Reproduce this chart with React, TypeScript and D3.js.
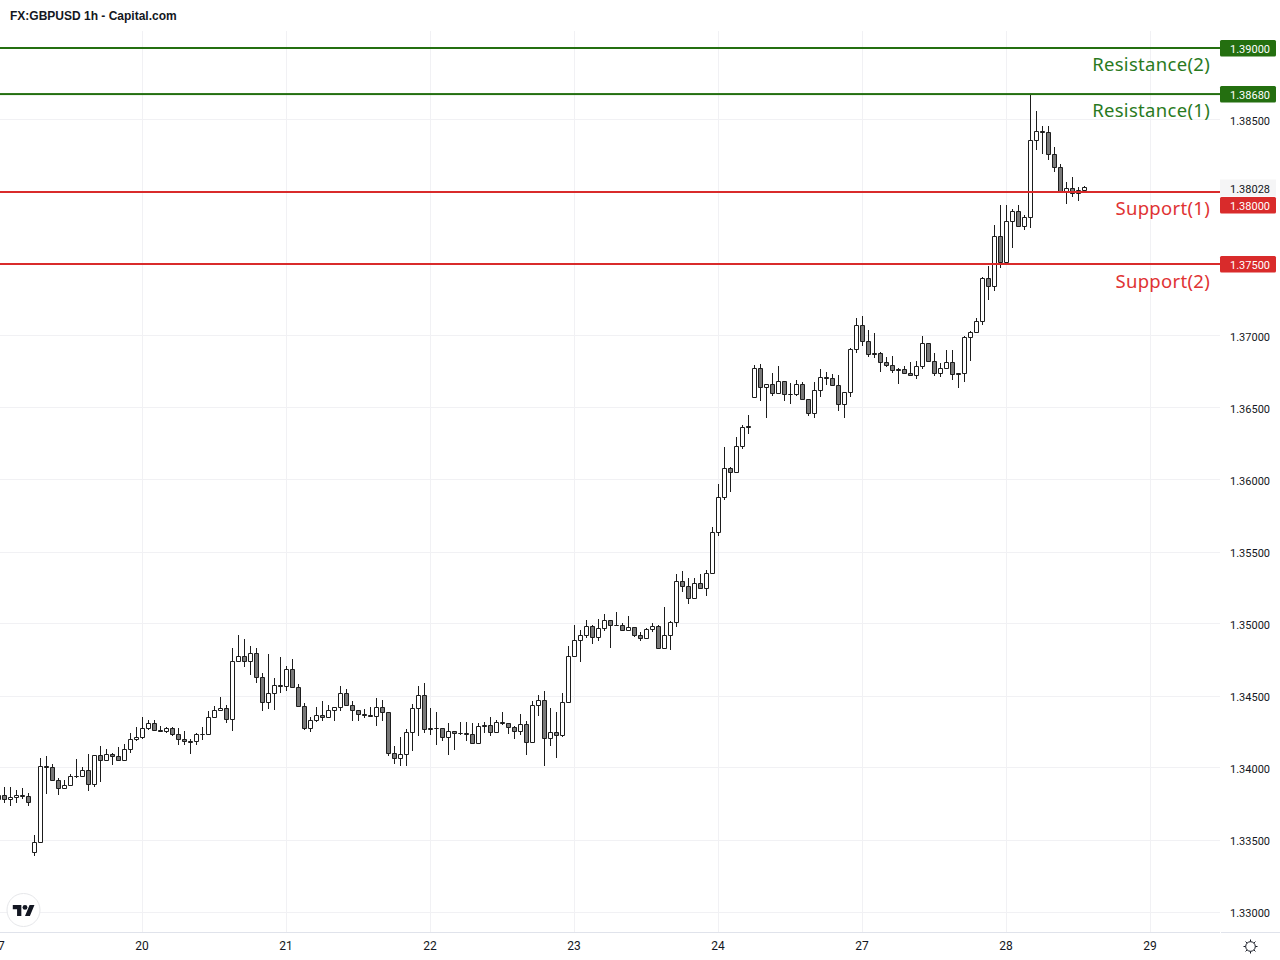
import React from "react";
import * as d3 from "d3";

// Hourly GBPUSD quotes, in units of 0.00001. One row per trading day.
const opens = [
  133778,133808,133780,133794,133808,133801,133414,133484,134009,134002,133912,133859,133880,133938,133942,133982,133887,134086,134053,134093,134079,134053,134130,134199,
  134213,134276,134308,134259,134255,134276,134232,134197,134183,134181,134232,134234,134352,134401,134412,134338,134741,134773,134741,134796,134628,134456,134519,134572,
  134567,134683,134558,134426,134276,134331,134364,134352,134401,134421,134516,134433,134398,134371,134364,134359,134419,134384,134100,134067,134095,134248,134415,134502,
  134276,134273,134273,134213,134252,134239,134241,134232,134171,134296,134294,134248,134315,134308,134283,134255,134301,134178,134435,134470,134206,134246,134227,134456,
  134776,134887,134922,134982,134908,134970,135023,134988,134988,134956,134975,134919,134900,134963,134982,134831,134922,135011,135294,135259,135178,135280,135247,135352,
  135636,135879,136079,136053,136234,136372,136572,136776,136644,136662,136602,136686,136593,136593,136665,136561,136463,136623,136711,136706,136658,136524,136609,136908,
  137075,136963,136880,136880,136818,136797,136769,136769,136741,136727,136790,136949,136824,136741,136776,136818,136741,136741,136991,137026,137102,137401,137343,137693,
  137510,137797,137867,137760,137825,138360,138422,138415,138262,138172,137999,138024,137989,138010,
];
const closes = [
  133806,133780,133794,133808,133801,133762,133482,134009,134005,133914,133859,133877,133940,133940,133982,133887,134086,134053,134093,134081,134053,134127,134197,134211,
  134273,134310,134262,134255,134273,134234,134199,134185,134178,134232,134234,134350,134398,134412,134338,134739,134773,134741,134794,134630,134456,134516,134574,134567,
  134683,134560,134428,134276,134331,134364,134352,134398,134419,134516,134435,134401,134373,134364,134359,134419,134387,134100,134067,134093,134246,134412,134502,134269,
  134269,134276,134213,134252,134241,134241,134234,134171,134290,134290,134248,134317,134308,134283,134255,134301,134178,134433,134468,134206,134246,134227,134454,134773,
  134884,134919,134982,134905,134968,135023,134988,134991,134956,134975,134922,134900,134963,134982,134831,134919,135011,135294,135261,135178,135280,135247,135349,135634,
  135877,136079,136053,136231,136366,136364,136776,136644,136662,136602,136686,136595,136595,136665,136561,136463,136623,136711,136706,136658,136524,136609,136908,137075,
  136963,136873,136873,136818,136797,136762,136762,136741,136727,136790,136949,136824,136741,136776,136818,136734,136734,136991,137026,137102,137401,137343,137693,137510,
  137797,137867,137760,137825,138360,138422,138415,138262,138172,137999,138024,137989,138010,138028,
];
const highs = [
  133847,133864,133866,133847,133859,133824,133533,134067,134083,134021,133928,133914,133956,134056,134005,134095,134086,134151,134130,134102,134144,134165,134241,134283,
  134352,134333,134333,134287,134280,134283,134271,134255,134199,134241,134278,134394,134428,134491,134435,134827,134917,134889,134845,134827,134658,134790,134623,134769,
  134702,134755,134577,134449,134352,134421,134465,134431,134419,134563,134542,134463,134398,134403,134421,134484,134472,134384,134146,134215,134264,134438,134563,134590,
  134410,134382,134273,134306,134252,134317,134317,134306,134306,134313,134352,134333,134387,134310,134290,134375,134324,134465,134505,134528,134415,134382,134519,134845,
  134993,134952,135021,134993,135033,135067,135023,135083,135005,135049,134975,134942,134970,135005,134993,135118,135018,135347,135366,135317,135317,135347,135373,135671,
  135972,136229,136088,136292,136380,136451,136797,136804,136662,136741,136790,136686,136672,136693,136679,136561,136679,136769,136748,136732,136727,136609,136915,137123,
  137132,137040,137014,136887,136852,136859,136776,136790,136813,136824,136998,136949,136880,136811,136901,136901,136741,136998,137033,137123,137408,137485,137765,137908,
  137908,137880,137908,137839,138680,138561,138457,138457,138311,138188,138068,138103,138031,138040,
];
const lows = [
  133766,133759,133739,133759,133785,133739,133391,133484,133822,133914,133815,133859,133880,133933,133942,133843,133870,133905,134053,134023,134053,134053,134109,134192,
  134204,134269,134262,134255,134246,134225,134162,134162,134100,134162,134197,134234,134352,134398,134315,134259,134741,134704,134648,134593,134398,134412,134405,134523,
  134537,134560,134428,134264,134252,134322,134333,134352,134329,134398,134435,134333,134327,134350,134359,134292,134327,134086,134030,134016,134016,134121,134225,134246,
  134236,134162,134190,134093,134125,134232,134190,134171,134171,134246,134225,134248,134301,134239,134204,134232,134093,134178,134364,134016,134155,134072,134218,134456,
  134776,134739,134905,134864,134885,134954,134836,134988,134956,134956,134912,134885,134900,134951,134831,134831,134822,134982,135224,135141,135178,135247,135201,135352,
  135613,135863,135919,136053,136217,136322,136572,136551,136433,136586,136602,136551,136530,136586,136561,136447,136436,136579,136660,136658,136482,136433,136579,136885,
  136933,136857,136850,136753,136787,136746,136669,136741,136727,136704,136776,136824,136725,136718,136776,136697,136642,136683,136829,137026,137077,137253,137316,137475,
  137500,137614,137760,137741,137755,138295,138267,138225,138142,137999,137920,137968,137941,138010,
];

const dayLabels = ["17", "20", "21", "22", "23", "24", "27", "28", "29"];
const barsPerDay = 24;
const gridPrices = [1.33, 1.335, 1.34, 1.345, 1.35, 1.355, 1.36, 1.365, 1.37, 1.375, 1.38, 1.385];
const plainTicks = [1.33, 1.335, 1.34, 1.345, 1.35, 1.355, 1.36, 1.365, 1.37, 1.385];
const lastPrice = 1.38028;
const levelNames = ["Resistance(2)", "Resistance(1)", "Support(1)", "Support(2)"];
const levelPrices = [1.39, 1.3868, 1.38, 1.375];
const levelKinds = ["r", "r", "s", "s"];
// label offset from the level line, px
const tagShift = [0, 0, 13, 0];
const nameShift = [17, 17, 17, 18];

const GREEN = "#246f10";
const GREEN_TEXT = "#2a7a1e";
const RED = "#d92b2b";
const RED_TEXT = "#e03333";
const INK = "#131722";
const CANDLE = "#1d1d1d";
const DOWN = "#787878";
const GRID = "#f1f1f4";

const W = 1280, H = 960, PLOT_R = 1220, AXIS_Y = 932, TOP = 31;
const y = d3.scaleLinear().domain([1.33, 1.39]).range([912, 48]);
const x = d3.scaleLinear().domain([0, barsPerDay * 8]).range([-2, 1150]);
const fmt = d3.format(".5f");
const UI = "Roboto, sans-serif";

export default function App() {
  const candles = opens.map((o, i) => {
    const c = closes[i];
    const cx = Math.round(x(i));
    const up = c >= o;
    const top = Math.floor(y(Math.max(o, c) / 1e5)) + 0.5;
    let bot = Math.floor(y(Math.min(o, c) / 1e5)) + 0.5;
    if (!up && bot === top) bot = top + 1;
    const hi = Math.floor(y(highs[i] / 1e5));
    const lo = Math.floor(y(lows[i] / 1e5)) + 1;
    const path = d3.path();
    path.moveTo(cx - 1.5, top);
    path.lineTo(cx + 2.5, top);
    path.lineTo(cx + 2.5, bot);
    path.lineTo(cx - 1.5, bot);
    path.closePath();
    return { i, cx, up, hi, lo, body: path.toString() };
  });
  const sunRays = d3.range(8).map((k) => (k * Math.PI) / 4);
  return (
    <svg
      width={W}
      height={H}
      viewBox={`0 0 ${W} ${H}`}
      style={{ position: "absolute", left: 0, top: 0, display: "block", background: "#fff" }}
    >
      {dayLabels.map((d, k) => {
        const gx = Math.round(x(k * barsPerDay)) + 0.5;
        return <line key={d} x1={gx} x2={gx} y1={TOP} y2={AXIS_Y} stroke={GRID} />;
      })}
      {gridPrices.map((p) => {
        const gy = Math.floor(y(p)) + 0.5;
        return <line key={p} x1={0} x2={PLOT_R} y1={gy} y2={gy} stroke={GRID} />;
      })}

      {candles.map((c) => (
        <g key={c.i}>
          <line x1={c.cx + 0.5} x2={c.cx + 0.5} y1={c.hi} y2={c.lo} stroke={CANDLE} />
          <path d={c.body} fill={c.up ? "#fff" : DOWN} stroke={CANDLE} />
        </g>
      ))}

      {levelPrices.map((p, k) => (
        <rect
          key={p}
          x={0}
          width={PLOT_R}
          y={y(p) - 1}
          height={2}
          fill={levelKinds[k] === "r" ? GREEN : RED}
        />
      ))}
      {levelNames.map((n, k) => (
        <text
          key={n}
          x={1210}
          y={y(levelPrices[k]) + nameShift[k] + 6}
          textAnchor="end"
          fontFamily="'Noto Sans', sans-serif"
          fontSize={18.5}
          letterSpacing={0.3}
          fill={levelKinds[k] === "r" ? GREEN_TEXT : RED_TEXT}
        >
          {n}
        </text>
      ))}

      <line x1={0} x2={PLOT_R} y1={AXIS_Y + 0.5} y2={AXIS_Y + 0.5} stroke="#e0e3eb" />
      <line x1={PLOT_R + 1} x2={W} y1={AXIS_Y + 0.5} y2={AXIS_Y + 0.5} stroke="#e0e3eb" />

      {plainTicks.map((p) => (
        <text key={p} x={1230} y={y(p) + 5} fontFamily={UI} fontSize={11} fill={INK}>
          {fmt(p)}
        </text>
      ))}
      <rect x={PLOT_R} y={y(lastPrice) - 8.5} width={56} height={17} fill="#f5f5f6" />
      <text x={1230} y={y(lastPrice) + 5} fontFamily={UI} fontSize={11} fill={INK}>
        {fmt(lastPrice)}
      </text>
      {levelPrices.map((p, k) => (
        <g key={p}>
          <rect
            x={PLOT_R}
            y={y(p) + tagShift[k] - 8}
            width={56}
            height={16.5}
            rx={1.5}
            fill={levelKinds[k] === "r" ? GREEN : RED}
          />
          <text x={1230} y={y(p) + tagShift[k] + 5} fontFamily={UI} fontSize={11} fill="#fff">
            {fmt(p)}
          </text>
        </g>
      ))}

      {dayLabels.map((d, k) => (
        <text
          key={d}
          x={x(k * barsPerDay)}
          y={950}
          textAnchor="middle"
          fontFamily={UI}
          fontSize={12}
          fill={INK}
        >
          {d}
        </text>
      ))}

      <text x={10} y={20} fontFamily="'Liberation Sans', Arial, sans-serif" fontSize={12} fontWeight={700} fill={INK}>
        FX:GBPUSD 1h - Capital.com
      </text>

      <circle cx={23.5} cy={910} r={16.5} fill="#fff" stroke="#e6e7ea" strokeWidth={1} />
      <g transform="translate(12.8 902.5) scale(0.61)" fill={INK}>
        <path d="M14 22H7V11H0V4h14v18zM28 22h-8l7.5-18h8L28 22z" />
        <circle cx={20} cy={8} r={4} />
      </g>

      <g transform="translate(1250.5 946.5)" fill="none" stroke={INK} strokeWidth={1}>
        <circle r={4.8} />
        {sunRays.map((a) => (
          <line
            key={a}
            x1={Math.cos(a) * 5}
            y1={Math.sin(a) * 5}
            x2={Math.cos(a) * 7}
            y2={Math.sin(a) * 7}
          />
        ))}
      </g>
    </svg>
  );
}
